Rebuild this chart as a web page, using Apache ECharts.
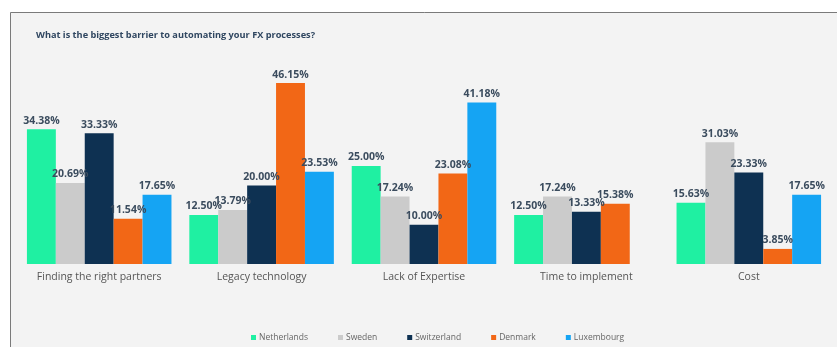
<!DOCTYPE html>
<html>
<head>
<meta charset="utf-8">
<script src="https://cdn.jsdelivr.net/npm/echarts@6/dist/echarts.min.js"></script>
<style>
html,body{margin:0;padding:0;background:#fff;}
#c{width:837px;height:347px;}
</style>
</head>
<body>
<div id="c"></div>
<script>
const categories = ["Finding the right partners", "Legacy technology", "Lack of Expertise", "Time to implement", "Cost"];
const seriesNames = ["Netherlands", "Sweden", "Switzerland", "Denmark", "Luxembourg"];
const netherlands = [34.38, 12.50, 25.00, 12.50, 15.63];
const sweden = [20.69, 13.79, 17.24, 17.24, 31.03];
const switzerland = [33.33, 20.00, 10.00, 13.33, 23.33];
const denmark = [11.54, 46.15, 23.08, 15.38, 3.85];
const luxembourg = [17.65, 23.53, 41.18, null, 17.65];
const colors = ["#1ff0a2", "#cbcbcb", "#0e3152", "#f26716", "#15a4f3"];

const values = [netherlands, sweden, switzerland, denmark, luxembourg];
const chart = echarts.init(document.getElementById('c'));
chart.setOption({
  animation: false,
  textStyle: {fontFamily: "Open Sans"},
  graphic: [{
    type: 'rect', z: -10, silent: true,
    shape: {x: 10.5, y: 12.5, width: 900, height: 400},
    style: {fill: '#f3f3f3', stroke: '#7a7a7a', lineWidth: 1}
  }],
  title: {
    text: "What is the biggest barrier to automating your FX processes?",
    left: 31, top: 26,
    textStyle: {fontSize: 9.2, fontWeight: 'bold', color: '#2f4660', fontFamily: "Open Sans"}
  },
  legend: {
    bottom: 0, left: 246,
    itemWidth: 5, itemHeight: 5, itemGap: 30, icon: 'rect',
    textStyle: {fontSize: 8.5, color: '#666', padding: [0,0,0,-2]},
    data: seriesNames
  },
  grid: {left: 18, right: 7, top: 68, bottom: 83},
  xAxis: {
    type: 'category', data: categories,
    axisLine: {show: false}, axisTick: {show: false},
    axisLabel: {fontSize: 10.5, color: '#555', margin: 8}
  },
  yAxis: {type: 'value', min: 0, max: 50, show: false, splitLine: {show: false}},
  series: seriesNames.map((n, i) => ({
    name: n, type: 'bar', data: values[i],
    itemStyle: {color: colors[i]},
    barGap: '0%', barCategoryGap: '11%',
    label: {
      show: true, position: 'top', distance: 3,
      fontSize: 10.5, fontWeight: 'bold', color: '#3b4c5e',
      formatter: p => p.value == null ? '' : p.value.toFixed(2) + '%'
    }
  }))
});
</script>
</body>
</html>
